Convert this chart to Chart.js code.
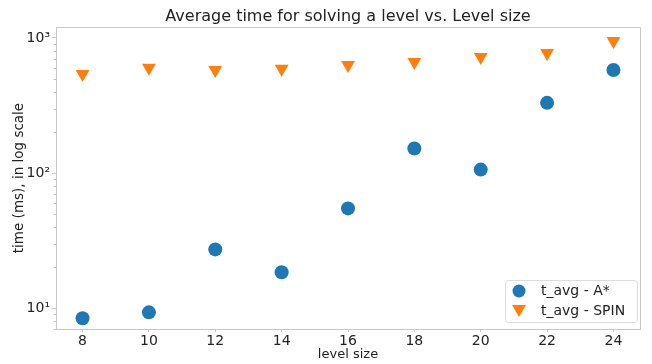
<!DOCTYPE html>
<html><head><meta charset="utf-8">
<script src="https://cdn.jsdelivr.net/npm/chart.js@4/dist/chart.umd.min.js"></script>
<style>html,body{margin:0;padding:0;background:#fff}#w{width:652px;height:364px}</style>
</head><body><div id="w"><canvas id="c"></canvas></div>
<script>
const levelSizes = [8, 10, 12, 14, 16, 18, 20, 22, 24];
const tAvgAStar = [8.4, 9.3, 27.2, 18.4, 54.7, 152, 106, 331, 580];
const tAvgSpin = [542, 601, 580, 591, 631, 665, 724, 774, 950];
const yMajorTicks = [10, 100, 1000];
const yTickLabels = ['10¹', '10²', '10³'];
const seriesNames = ['t_avg - A*', 't_avg - SPIN'];
const titleText = 'Average time for solving a level vs. Level size';
const xTitle = 'level size';
const yTitle = 'time (ms), in log scale';

const BLUE = '#1f77b4', ORANGE = '#ff7f0e', SPINE = '#c8c8c8';
const FONT = "'DejaVu Sans', sans-serif";

const decor = {
  id: 'decor',
  afterDraw(chart) {
    const ctx = chart.ctx, a = chart.chartArea, y = chart.scales.y;
    ctx.save();
    ctx.strokeStyle = SPINE; ctx.lineWidth = 1;
    ctx.beginPath();
    ctx.moveTo(a.left, a.top + 0.5); ctx.lineTo(a.right + 0.5, a.top + 0.5);
    ctx.lineTo(a.right + 0.5, a.bottom);
    ctx.stroke();
    ctx.beginPath();
    for (let d = 1; d <= 1000; d *= 10) {
      for (let m = 2; m <= 9; m++) {
        const v = d * m;
        if (v < y.min || v > y.max) continue;
        const py = Math.round(y.getPixelForValue(v)) + 0.5;
        ctx.moveTo(a.left - 2.5, py); ctx.lineTo(a.left, py);
      }
    }
    ctx.stroke();
    ctx.fillStyle = '#222';
    ctx.textAlign = 'center'; ctx.textBaseline = 'middle';
    ctx.font = '16px ' + FONT;
    ctx.fillText(titleText, (a.left + a.right) / 2, 17);
    ctx.font = '13px ' + FONT;
    ctx.fillText(xTitle, (a.left + a.right) / 2, 355);
    ctx.save();
    ctx.translate(19, (a.top + a.bottom) / 2);
    ctx.rotate(-Math.PI / 2);
    ctx.font = '13.5px ' + FONT;
    ctx.fillText(yTitle, 0, 0);
    ctx.restore();
    const lx = 505, ly = 280, lw = 132, lh = 42;
    ctx.fillStyle = 'rgba(255,255,255,0.85)';
    ctx.strokeStyle = '#dcdcdc';
    ctx.beginPath();
    ctx.roundRect(lx + 0.5, ly + 0.5, lw, lh, 3);
    ctx.fill(); ctx.stroke();
    ctx.fillStyle = BLUE;
    ctx.beginPath(); ctx.arc(lx + 14, ly + 11, 6.5, 0, Math.PI * 2); ctx.fill();
    ctx.fillStyle = ORANGE;
    ctx.beginPath();
    ctx.moveTo(lx + 7, ly + 25); ctx.lineTo(lx + 21, ly + 25); ctx.lineTo(lx + 14, ly + 37);
    ctx.closePath(); ctx.fill();
    ctx.fillStyle = '#222';
    ctx.textAlign = 'left';
    ctx.font = '14px ' + FONT;
    ctx.fillText(seriesNames[0], lx + 36, ly + 11);
    ctx.fillText(seriesNames[1], lx + 36, ly + 31);
    ctx.restore();
  }
};

new Chart(document.getElementById('c'), {
  type: 'scatter',
  data: {
    datasets: [
      { label: seriesNames[0], data: levelSizes.map((x, i) => ({x, y: tAvgAStar[i]})),
        pointStyle: 'circle', pointRadius: 7, pointHoverRadius: 7,
        backgroundColor: BLUE, borderColor: BLUE, borderWidth: 0 },
      { label: seriesNames[1], data: levelSizes.map((x, i) => ({x, y: tAvgSpin[i]})),
        pointStyle: 'triangle', rotation: 180, pointRadius: 8, pointHoverRadius: 8,
        backgroundColor: ORANGE, borderColor: ORANGE, borderWidth: 0 }
    ]
  },
  options: {
    responsive: true, maintainAspectRatio: false, animation: false,
    layout: { padding: { top: 27, right: 12, left: 0, bottom: 0 } },
    plugins: { legend: { display: false }, title: { display: false }, tooltip: { enabled: false } },
    scales: {
      x: {
        type: 'linear', min: 7.2, max: 24.8,
        afterBuildTicks: s => { s.ticks = levelSizes.map(v => ({ value: v })); },
        afterFit: s => { s.height = 35; },
        grid: { display: true, drawOnChartArea: false, tickLength: 3, color: SPINE },
        border: { display: true, color: SPINE },
        ticks: { padding: 1, color: '#222', font: { family: FONT, size: 14 }, maxRotation: 0,
                 callback: v => String(v) }
      },
      y: {
        type: 'logarithmic', min: 7.0, max: 1206,
        afterBuildTicks: s => { s.ticks = yMajorTicks.map(v => ({ value: v })); },
        afterFit: s => { s.width = 56; },
        grid: { display: true, drawOnChartArea: false, tickLength: 4, color: SPINE },
        border: { display: true, color: SPINE },
        ticks: { padding: 2, color: '#222', font: { family: FONT, size: 14 },
                 callback: v => yTickLabels[yMajorTicks.indexOf(v)] ?? '' }
      }
    }
  },
  plugins: [decor]
});
</script></body></html>
